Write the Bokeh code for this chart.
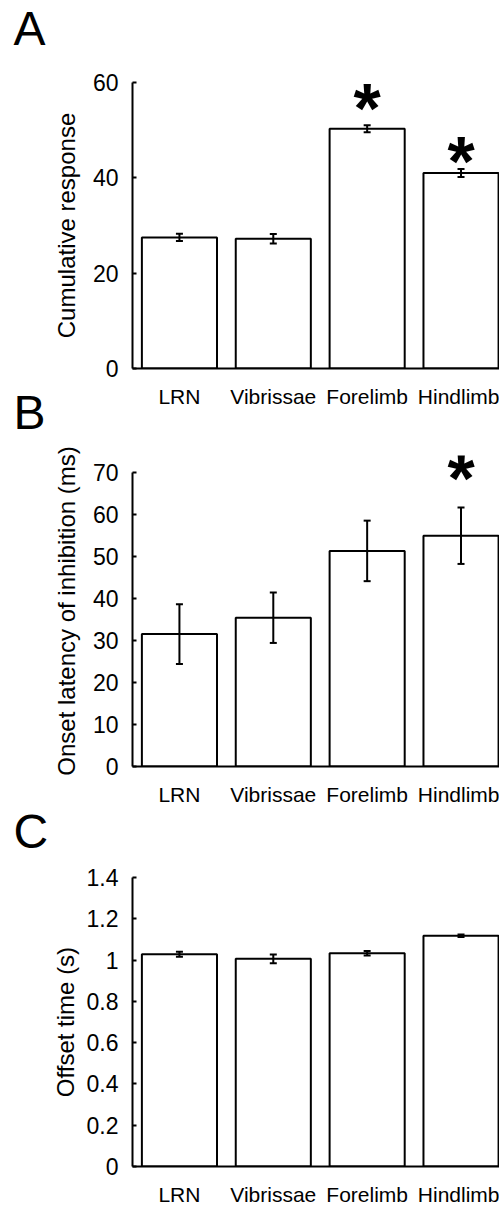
from bokeh.plotting import figure
from bokeh.models import ColumnDataSource, Whisker, TeeHead, Label, FixedTicker, Range1d, Title
from bokeh.layouts import column
from bokeh.embed import file_html
from bokeh.resources import INLINE

# ---------------- data ----------------
categories = ["LRN", "Vibrissae", "Forelimb", "Hindlimb"]

cumulative_mean = [27.5, 27.2, 50.3, 41.0]
cumulative_err = [0.75, 1.0, 0.75, 0.85]
cumulative_ticks = [0, 20, 40, 60]
cumulative_tick_labels = ["0", "20", "40", "60"]
cumulative_sig = ["Forelimb", "Hindlimb"]
cumulative_sig_y = [54.4, 43.3]

onset_mean = [31.5, 35.4, 51.3, 54.9]
onset_err = [7.1, 6.0, 7.2, 6.7]
onset_ticks = [0, 10, 20, 30, 40, 50, 60, 70]
onset_tick_labels = ["0", "10", "20", "30", "40", "50", "60", "70"]
onset_sig = ["Hindlimb"]
onset_sig_y = [68.4]

offset_mean = [1.028, 1.006, 1.033, 1.118]
offset_err = [0.012, 0.021, 0.011, 0.006]
offset_ticks = [0, 0.2, 0.4, 0.6, 0.8, 1.0, 1.2, 1.4]
offset_tick_labels = ["0", "0.2", "0.4", "0.6", "0.8", "1", "1.2", "1.4"]
offset_sig = []
offset_sig_y = []

FONT = "Liberation Sans"


def make_panel(letter, ylabel, means, errs, ticks, tick_labels, sig_cats, sig_y,
               y_end, height, border_top, border_bottom, label_standoff,
               spacer, margin_top=0):
    xpos = list(range(1, len(categories) + 1))
    src = ColumnDataSource(dict(
        x=xpos,
        top=means,
        upper=[m + e for m, e in zip(means, errs)],
        lower=[m - e for m, e in zip(means, errs)],
    ))
    p = figure(width=499, height=height,
               x_range=Range1d(0.5, 4.41),
               y_range=Range1d(ticks[0], y_end),
               output_backend="svg", toolbar_location=None,
               min_border_left=132, min_border_right=0,
               min_border_top=border_top, min_border_bottom=border_bottom,
               margin=(margin_top, 0, 0, 0))
    p.outline_line_color = None
    p.xgrid.visible = False
    p.ygrid.visible = False
    p.background_fill_alpha = 0
    p.border_fill_alpha = 0

    p.vbar(x="x", top="top", bottom=0, width=0.8, source=src,
           fill_color="white", line_color="black", line_width=2)

    w = Whisker(base="x", upper="upper", lower="lower", source=src,
                line_color="black", line_width=2, level="overlay",
                upper_head=TeeHead(size=7, line_width=2, line_color="black"),
                lower_head=TeeHead(size=7, line_width=2, line_color="black"))
    p.add_layout(w)

    # y axis
    ya = p.yaxis[0]
    ya.ticker = FixedTicker(ticks=ticks)
    ya.bounds = (ticks[0], ticks[-1])
    ya.major_label_overrides = {t: l for t, l in zip(ticks, tick_labels)}
    ya.major_tick_in = 4
    ya.major_tick_out = 0
    ya.minor_tick_line_color = None
    ya.axis_line_width = 2
    ya.major_tick_line_width = 2
    ya.major_label_standoff = 14
    ya.major_label_text_font = FONT
    ya.major_label_text_font_size = "23px"
    ya.major_label_text_color = "black"
    ya.axis_label = ylabel
    ya.axis_label_text_font = FONT
    ya.axis_label_text_font_size = "24px"
    ya.axis_label_text_font_style = "normal"
    ya.axis_label_text_color = "black"
    ya.axis_label_standoff = label_standoff

    # x axis
    xa = p.xaxis[0]
    xa.ticker = FixedTicker(ticks=xpos)
    xa.major_label_overrides = {x: c for x, c in zip(xpos, categories)}
    xa.major_tick_line_color = None
    xa.minor_tick_line_color = None
    xa.axis_line_width = 2
    xa.major_label_standoff = 10
    xa.major_label_text_font = FONT
    xa.major_label_text_font_size = "21px"
    xa.major_label_text_color = "black"

    # significance stars
    for c, yv in zip(sig_cats, sig_y):
        p.add_layout(Label(x=categories.index(c) + 1, y=yv, text="*",
                           text_font=FONT, text_font_size="70px",
                           text_font_style="bold", text_align="center",
                           text_baseline="middle", text_color="black"))

    # spacer between the frame and the panel letter
    p.add_layout(Title(text=" ", text_font_size="1px", standoff=spacer), "above")

    # panel letter as (outermost) title
    p.title.text = letter
    p.title.text_font = FONT
    p.title.text_font_size = "48px"
    p.title.text_font_style = "normal"
    p.title.text_color = "black"
    p.title.align = "left"
    p.title.vertical_align = "top"
    p.title.offset = -119
    p.title.standoff = 0
    return p


pA = make_panel("A", "Cumulative response", cumulative_mean, cumulative_err,
                cumulative_ticks, cumulative_tick_labels, cumulative_sig, cumulative_sig_y,
                60, 410, 82, 31, 10, 23)
pB = make_panel("B", "Onset latency of inhibition (ms)", onset_mean, onset_err,
                onset_ticks, onset_tick_labels, onset_sig, onset_sig_y,
                74, 423, 70, 39, 10, 12, margin_top=-25)
pC = make_panel("C", "Offset time (s)", offset_mean, offset_err,
                offset_ticks, offset_tick_labels, offset_sig, offset_sig_y,
                1.4, 405, 74, 36, 5, 15, margin_top=-5)

layout = column(pA, pB, pC, spacing=0)
open("out.html", "w").write(file_html(layout, INLINE))
